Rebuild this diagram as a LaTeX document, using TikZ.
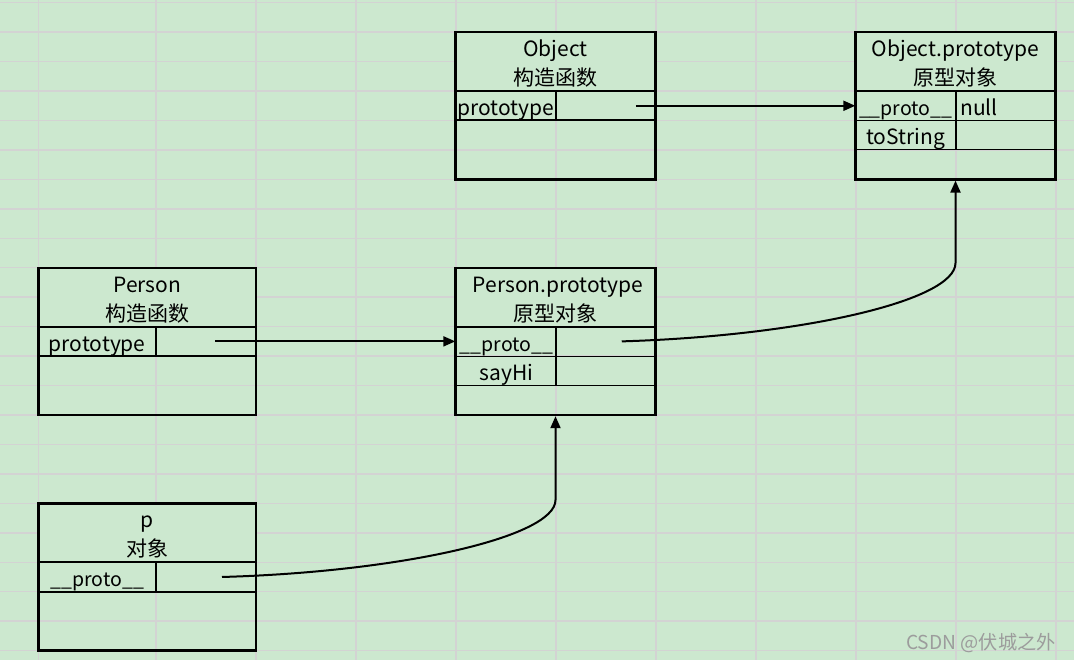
\documentclass[tikz,border=0pt]{standalone}
\usepackage{fontspec}
\setmainfont{Noto Sans CJK SC}
\usetikzlibrary{arrows.meta,calc}
\definecolor{bgc}{HTML}{CCE8CF}
\definecolor{gridc}{HTML}{D3D3D3}
\definecolor{wmc}{HTML}{9C9C9C}
\tikzset{
  gridline/.style={draw=gridc, line width=1.4pt},
  txt/.style={anchor=base, inner sep=0pt, font=\fontsize{21}{21}\selectfont, text=black},
  utxt/.style={txt, font=\fontsize{19.5}{19.5}\selectfont},
  boxnode/.style={draw=black, line width=2.4pt, minimum width=#1, minimum height=147.25pt, inner sep=0pt},
  cellnode/.style={minimum width=#1, minimum height=29.45pt, inner sep=0pt},
  thickrule/.style={draw=black, line width=2pt},
  thinrule/.style={draw=black, line width=1.1pt},
  arr/.style={draw=black, line width=2pt, -{Triangle[length=12pt,width=10pt]}},
  wmark/.style={anchor=base west, inner sep=0pt, font=\fontsize{19.2}{19.2}\selectfont, text=wmc}
}
\begin{document}
\begin{tikzpicture}[x=1pt,y=-1pt]
\useasboundingbox (0,0) rectangle (1074,660);
% background and sheet grid
\fill[bgc] (0,0) rectangle (1074,660);
\foreach \x in {38.5,156,256,356,456,556,656,756,856,956,1056}
  \draw[gridline] (\x,0) -- (\x,660);
\foreach \k in {0,...,22}
  \draw[gridline] (0,{2.7+29.45*\k}) -- (1074,{2.7+29.45*\k});
% merged header cells hide the grid
\fill[bgc] (455.5,32.15) rectangle (655.5,91.05);
\fill[bgc] (855.5,32.15) rectangle (1055.5,91.05);
\fill[bgc] (38.5,267.75) rectangle (256,326.65);
\fill[bgc] (455.5,267.75) rectangle (655.5,326.65);
\fill[bgc] (38.5,503.35) rectangle (256,562.25);

% ---------- Object constructor ----------
\node[boxnode=200pt] (ob) at (555.5,105.78) {};
\draw[thickrule] (455.5,91.05) -- (655.5,91.05);
\draw[thickrule] (455.5,120.5) -- (655.5,120.5);
\draw[thinrule] (556,91.05) -- (556,120.5);
\node[txt] (obt1) at (555.5,56.5) {Object};
\node[txt] (obt2) at (555.5,85.5) {构造函数};
\node[txt] (obk) at (505.75,115.5) {prototype};
\node[cellnode=99.5pt] (obv) at (605.75,105.78) {};

% ---------- Object.prototype ----------
\node[boxnode=200pt] (op) at (955.5,105.78) {};
\draw[thickrule] (855.5,91.05) -- (1055.5,91.05);
\draw[thinrule] (855.5,120.5) -- (1055.5,120.5);
\draw[thinrule] (855.5,149.95) -- (1055.5,149.95);
\draw[thinrule] (956,91.05) -- (956,149.95);
\node[txt] (opt1) at (955.5,56.5) {Object.prototype};
\node[txt] (opt2) at (955.5,85.5) {原型对象};
\node[cellnode=100.5pt] (opk) at (905.75,105.78) {};
\node[utxt] (opkt) at (905.75,115.5) {\_\_proto\_\_};
\node[txt, anchor=base west] (opv) at (960,115.5) {null};
\node[txt] (opk2) at (905.75,145) {toString};

% ---------- Person constructor ----------
\node[boxnode=217.5pt] (pc) at (147.25,341.38) {};
\draw[thickrule] (38.5,326.65) -- (256,326.65);
\draw[thickrule] (38.5,356.1) -- (256,356.1);
\draw[thinrule] (156,326.65) -- (156,356.1);
\node[txt] (pct1) at (147.25,292.2) {Person};
\node[txt] (pct2) at (147.25,321.1) {构造函数};
\node[txt] (pck) at (97.25,351.1) {prototype};
\node[cellnode=100pt] (pcv) at (206,341.38) {};

% ---------- Person.prototype ----------
\node[boxnode=200pt] (pp) at (555.5,341.38) {};
\draw[thickrule] (455.5,326.65) -- (655.5,326.65);
\draw[thinrule] (455.5,356.1) -- (655.5,356.1);
\draw[thinrule] (455.5,385.55) -- (655.5,385.55);
\draw[thinrule] (556,326.65) -- (556,385.55);
\node[txt] (ppt1) at (558,292.2) {Person.prototype};
\node[txt] (ppt2) at (555.5,321.1) {原型对象};
\node[cellnode=100.5pt] (ppk) at (505.75,341.38) {};
\node[utxt] (ppkt) at (506.5,351.1) {\_\_proto\_\_};
\node[txt] (ppk2) at (506.5,380.5) {sayHi};
\node[cellnode=99.5pt] (ppv) at (605.75,341.38) {};

% ---------- p object ----------
\node[boxnode=217.5pt] (po) at (147.25,576.98) {};
\draw[thickrule] (38.5,562.25) -- (256,562.25);
\draw[thickrule] (38.5,591.7) -- (256,591.7);
\draw[thinrule] (156,562.25) -- (156,591.7);
\node[txt] (pot1) at (147.25,527.5) {p};
\node[txt] (pot2) at (147.25,556.5) {对象};
\node[utxt] (pok) at (97.25,586.7) {\_\_proto\_\_};
\node[cellnode=100pt] (pov) at (206,576.98) {};

% ---------- connectors ----------
\coordinate (s1) at ($(obv.center)+(30,0)$);
\coordinate (s2) at ($(pcv.center)+(9,0)$);
\coordinate (s3) at ($(ppv.center)+(16,0)$);
\coordinate (s4) at ($(pov.center)+(16,0)$);
\draw[arr] (s1) -- (opk.west);
\draw[arr] (s2) -- (ppk.west);
\draw[arr] (s3) .. controls (800,336) and (955.5,301) .. (955.5,263) -- (op.south);
\draw[arr] (s4) .. controls (400,572) and (555.5,537) .. (555.5,500) -- (pp.south);

% watermark
\node[wmark] (wm) at (906,649) {CSDN @伏城之外};
\end{tikzpicture}
\end{document}
